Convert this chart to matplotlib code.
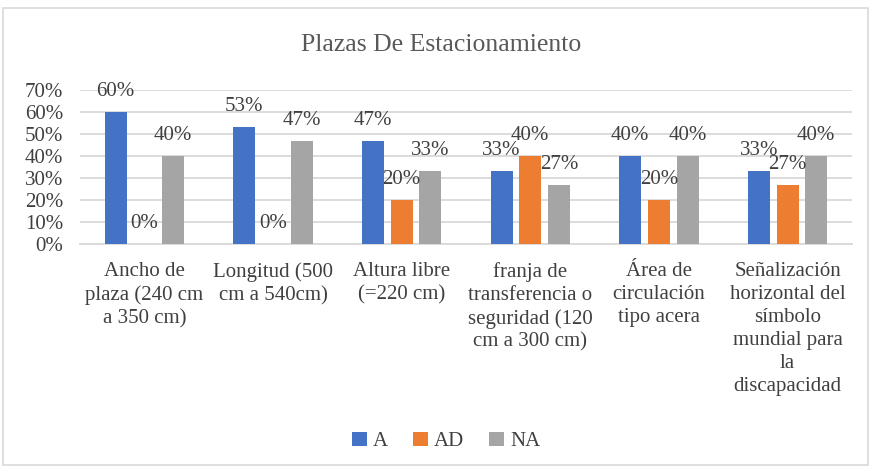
import matplotlib
matplotlib.use('Agg')
import matplotlib.pyplot as plt
from matplotlib.patches import Rectangle
import numpy as np

# Data (fractions)
categories = [
    "Ancho de\nplaza (240 cm\na 350 cm)",
    "Longitud (500\ncm a 540cm)",
    "Altura libre\n(=220 cm)",
    "franja de\ntransferencia o\nseguridad (120\ncm a 300 cm)",
    "Área de\ncirculación\ntipo acera",
    "Señalización\nhorizontal del\nsímbolo\nmundial para\nla\ndiscapacidad",
]
series_names = ["A", "AD", "NA"]
a_vals = [0.600, 0.533, 0.467, 0.333, 0.400, 0.333]
ad_vals = [0.000, 0.000, 0.200, 0.400, 0.200, 0.267]
na_vals = [0.400, 0.467, 0.333, 0.267, 0.400, 0.400]
yticks = [0, 0.1, 0.2, 0.3, 0.4, 0.5, 0.6, 0.7]

colors = ["#4472C4", "#ED7D31", "#A5A5A5"]
text_col = "#404040"

plt.rcParams['font.family'] = ['Liberation Serif', 'DejaVu Serif']

fig = plt.figure(figsize=(8.72, 4.71), dpi=100)
fig.patches.append(Rectangle((0.004, 0.012), 0.991, 0.972, transform=fig.transFigure,
                             fill=False, edgecolor="#D9D9D9", linewidth=1.2))

ax = fig.add_axes([0.0917, 0.482, 0.8853, 0.327])
x = np.arange(len(categories))
width = 0.171
step = 0.223

for i, (vals, name) in enumerate(zip([a_vals, ad_vals, na_vals], series_names)):
    pos = x + (i - 1) * step
    bars = ax.bar(pos, vals, width, color=colors[i], label=name, zorder=3)
    for b, v in zip(bars, vals):
        ax.annotate(f"{v*100:.0f}%", (b.get_x() + b.get_width() / 2, v),
                    xytext=(0, 8), textcoords='offset points',
                    ha='center', va='bottom', fontsize=15, color=text_col, zorder=4)

ax.set_xlim(-0.5, len(categories) - 0.5)
ax.set_ylim(0, 0.7)
ax.set_yticks(yticks)
ax.set_yticklabels([f"{t*100:.0f}%" for t in yticks], fontsize=15, color=text_col)
ax.set_xticks(x)
ax.set_xticklabels(categories, fontsize=15, color=text_col, linespacing=1.28, va='top')
ax.tick_params(axis='x', length=0, pad=13)
ax.tick_params(axis='y', length=0, pad=12)
ax.grid(axis='y', color="#D9D9D9", linewidth=1.3, zorder=0)
for s in ['top', 'right', 'left']:
    ax.spines[s].set_visible(False)
ax.spines['bottom'].set_color("#D9D9D9")
ax.spines['bottom'].set_linewidth(1.3)

fig.text(0.506, 0.905, "Plazas De Estacionamiento", ha='center', va='center',
         fontsize=18.5, color="#595959")

fig.legend(loc='center', bbox_to_anchor=(0.512, 0.063), ncol=3, frameon=False,
           fontsize=15, handlelength=0.7, handleheight=0.7, handletextpad=0.3,
           columnspacing=1.2, labelcolor=text_col)

plt.savefig("out.png", dpi=100)
plt.close()
